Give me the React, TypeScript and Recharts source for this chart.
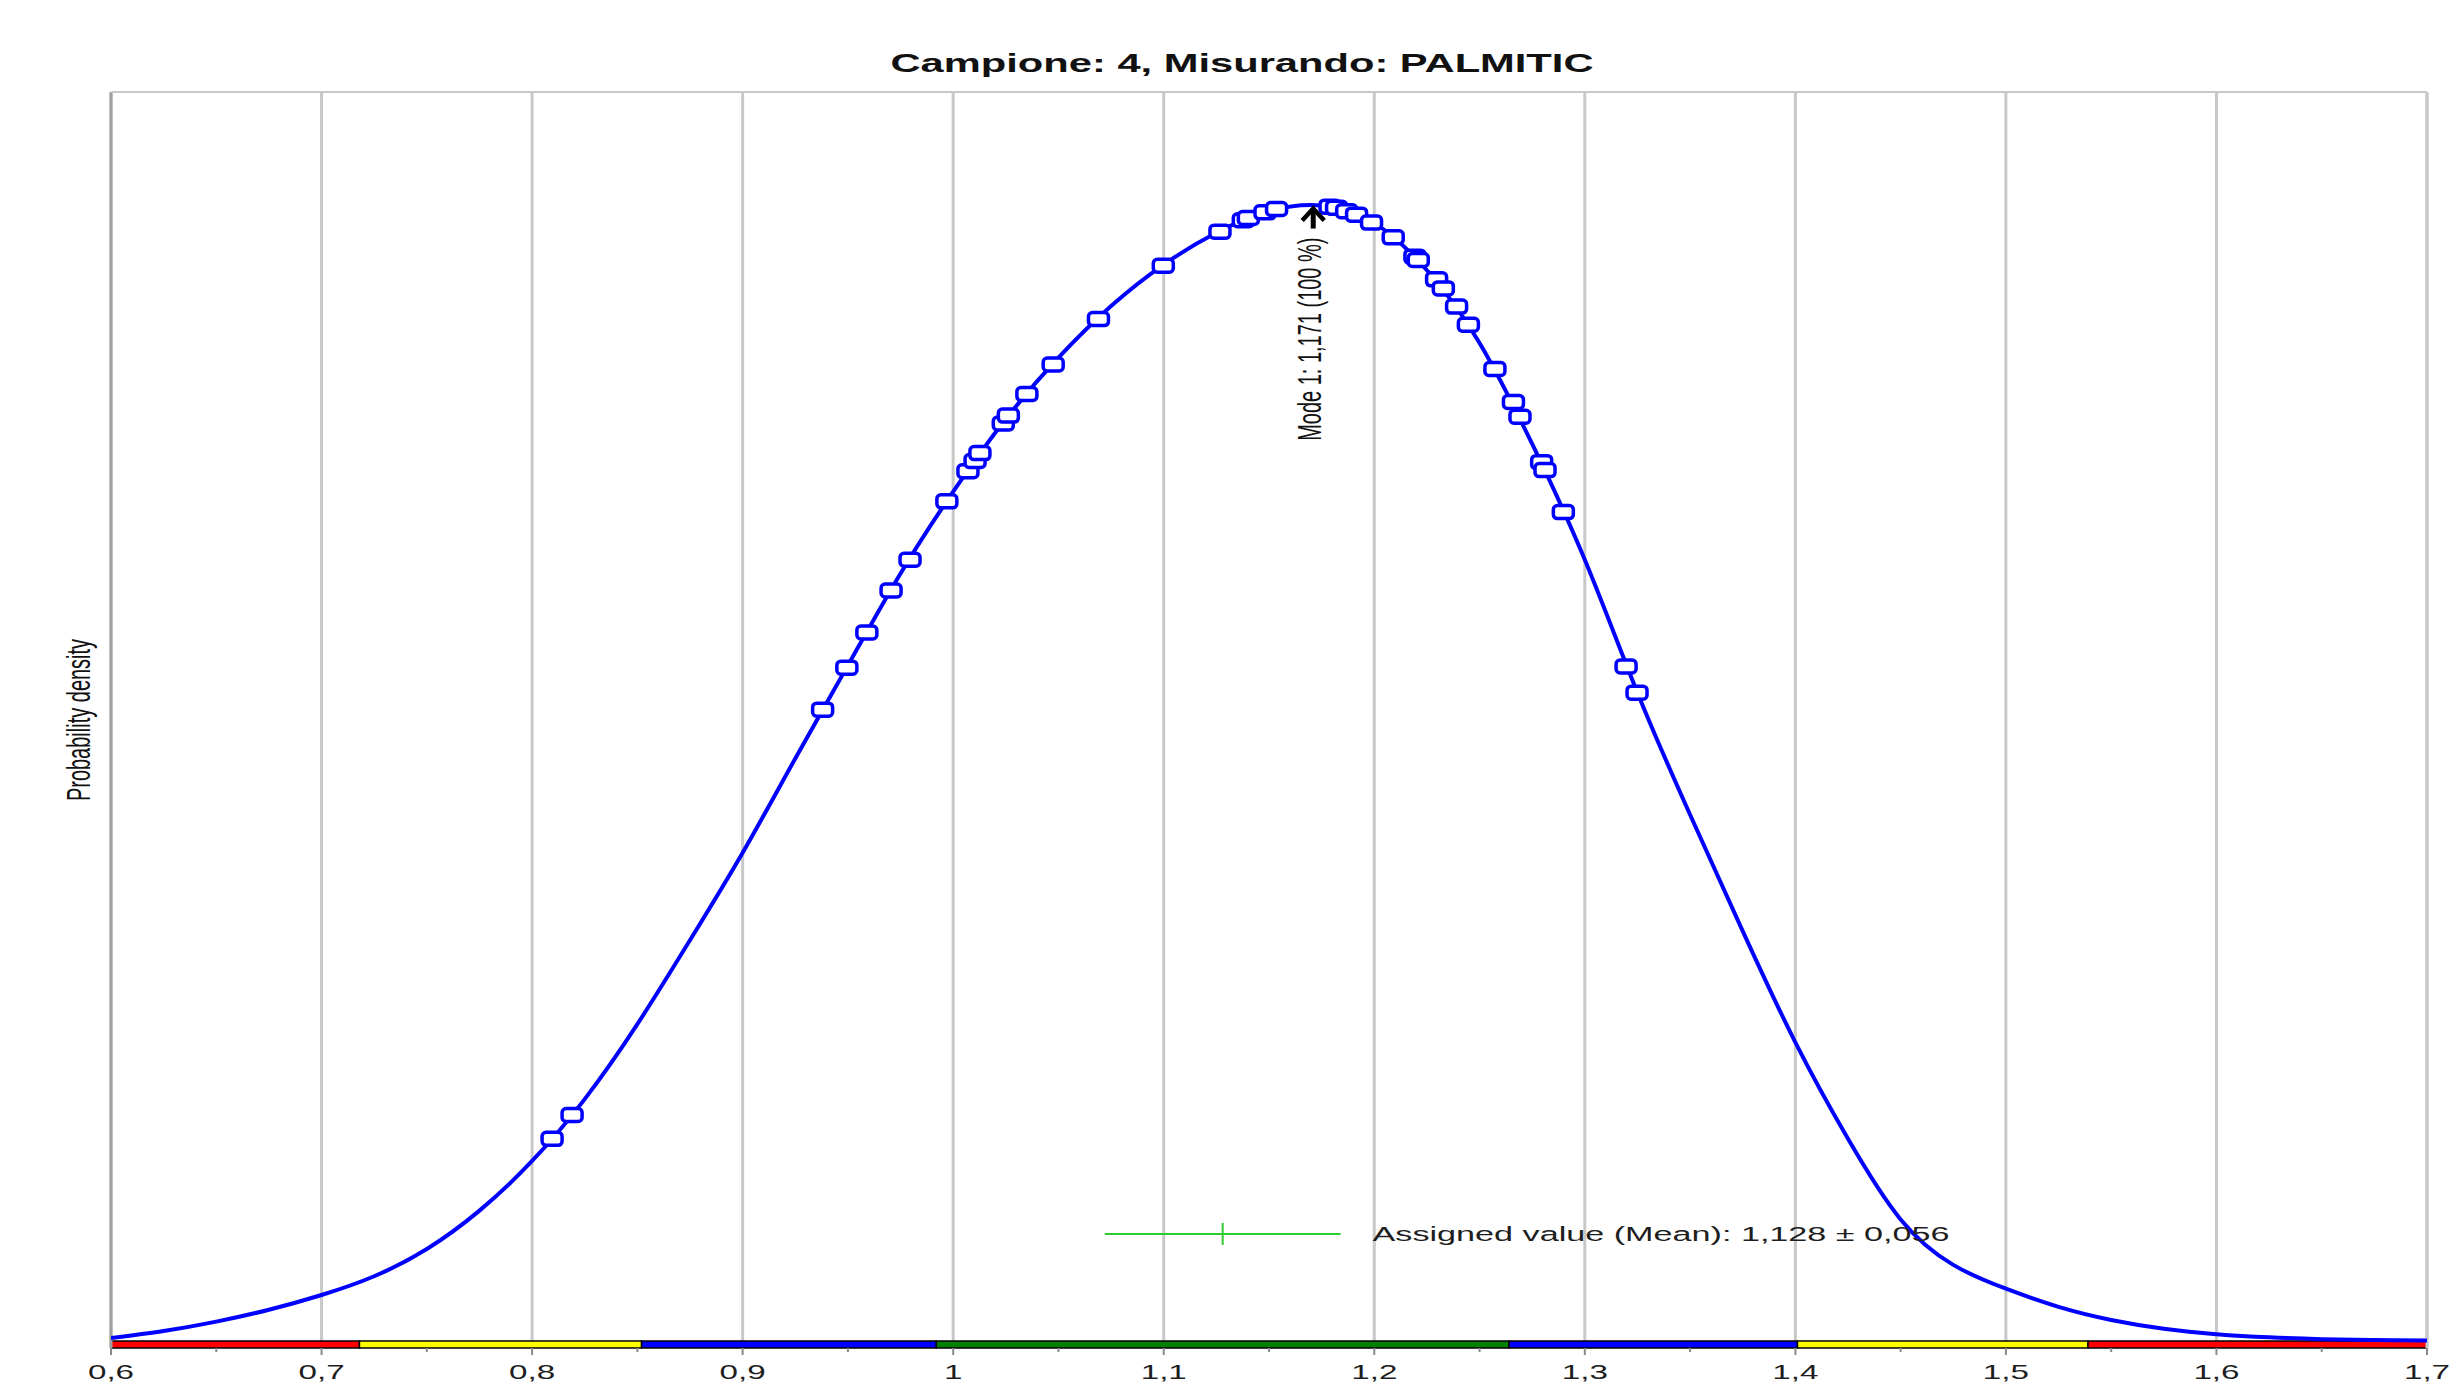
import React from 'react';
import {
  ComposedChart, Line, Scatter, XAxis, YAxis, CartesianGrid,
  ReferenceArea, ReferenceLine, ReferenceDot,
} from 'recharts';

// ---------- data ----------
const CURVE_X = [0.6, 0.625, 0.65, 0.675, 0.7, 0.725, 0.75, 0.775, 0.8, 0.825, 0.85, 0.875, 0.9, 0.925, 0.95, 0.975, 1.0, 1.025, 1.05, 1.075, 1.1, 1.125, 1.15, 1.175, 1.2, 1.225, 1.25, 1.275, 1.3, 1.325, 1.35, 1.375, 1.4, 1.425, 1.45, 1.475, 1.5, 1.525, 1.55, 1.575, 1.6, 1.625, 1.65, 1.675, 1.7];
const CURVE_Y = [0.0025, 0.00875, 0.017, 0.0275, 0.0405, 0.057, 0.081, 0.1148, 0.1585, 0.213, 0.279, 0.353, 0.43, 0.513, 0.595, 0.676, 0.748, 0.812, 0.866, 0.9115, 0.948, 0.976, 0.995, 1.0, 0.9845, 0.943, 0.879, 0.79, 0.688, 0.571, 0.4635, 0.361, 0.263, 0.178, 0.107, 0.067, 0.046, 0.03, 0.0185, 0.0108, 0.006, 0.0032, 0.0016, 0.0008, 0.0003];

const MARKER_X = [0.8095, 0.819, 0.938, 0.9495, 0.959, 0.9705, 0.9795, 0.997, 1.007, 1.0104, 1.0127, 1.0238, 1.0262, 1.035, 1.0475, 1.069, 1.0998, 1.1267, 1.1378, 1.1402, 1.1481, 1.1536, 1.179, 1.1821, 1.1869, 1.1916, 1.1987, 1.209, 1.2193, 1.2209, 1.2296, 1.2328, 1.2391, 1.2447, 1.2573, 1.2661, 1.2692, 1.2795, 1.2811, 1.2898, 1.3196, 1.3248];
const MARKER_Y = [0.178, 0.199, 0.556, 0.593, 0.624, 0.661, 0.688, 0.7395, 0.766, 0.775, 0.782, 0.808, 0.815, 0.834, 0.86, 0.9, 0.947, 0.977, 0.987, 0.989, 0.994, 0.997, 0.999, 0.998, 0.995, 0.992, 0.985, 0.972, 0.955, 0.952, 0.935, 0.927, 0.911, 0.895, 0.856, 0.827, 0.814, 0.774, 0.767, 0.73, 0.594, 0.571];

const MAJOR_TICKS = [0.6, 0.7, 0.8, 0.9, 1.0, 1.1, 1.2, 1.3, 1.4, 1.5, 1.6, 1.7];
const MINOR_TICKS = [0.65, 0.75, 0.85, 0.95, 1.05, 1.15, 1.25, 1.35, 1.45, 1.55, 1.65];

const BAND_EDGES = [0.6, 0.718, 0.852, 0.992, 1.264, 1.401, 1.539, 1.7];
const BAND_COLORS = ['#ff0000', '#ffff00', '#0000ff', '#008000', '#0000ff', '#ffff00', '#ff0000'];

const MODE = 1.171;
const MODE_PCT = 100;
const MEAN = 1.128;
const MEAN_U = 0.056;

const TITLE = 'Campione: 4, Misurando: PALMITIC';
const Y_LABEL = 'Probability density';

// ---------- layout constants ----------
const W = 2459;
const H = 1389;
const Y_MAX = 1.1;
const BAND_BOTTOM = -0.0062;
const ASSIGNED_Y = 0.0943;
const FONT = '"Liberation Sans", Arial, Helvetica, sans-serif';
const SX = 1.62;

const curve = CURVE_X.map((x, i) => ({ x, y: CURVE_Y[i] }));
const markers = MARKER_X.map((x, i) => ({ x, y: MARKER_Y[i] }));
const ALL_TICKS = [...MAJOR_TICKS, ...MINOR_TICKS].sort((a, b) => a - b);

const isMajor = (v: number) => Math.abs(v * 10 - Math.round(v * 10)) < 1e-6;
const fmt = (v: number) => String(Number(v.toFixed(1))).replace('.', ',');
const fmt3 = (v: number) => v.toFixed(3).replace('.', ',');

const XTick = (props: any) => {
  const { x, y, payload } = props;
  const v = payload.value as number;
  const major = isMajor(v);
  return (
    <g>
      <line x1={x} y1={y} x2={x} y2={y + (major ? 7 : 4)} stroke="#8a8a8a" strokeWidth={2} />
      {major && (
        <text
          transform={`translate(${x},${y + 31}) scale(1.66,1)`}
          textAnchor="middle"
          fontSize={20}
          fontFamily={FONT}
          fill="#1e1e1e"
        >
          {fmt(v)}
        </text>
      )}
    </g>
  );
};

const MarkerShape = (props: any) => {
  const { cx, cy } = props;
  if (cx == null || cy == null) return <g />;
  return (
    <rect x={cx - 10} y={cy - 6.5} width={20} height={13} rx={4} ry={4}
      fill="#ffffff" stroke="#0000ff" strokeWidth={3.5} />
  );
};

const ModeShape = (props: any) => {
  const { cx, cy } = props;
  if (cx == null || cy == null) return <g />;
  return (
    <g>
      <line x1={cx} y1={cy + 3} x2={cx} y2={cy + 23} stroke="#000" strokeWidth={5} />
      <polyline points={`${cx - 11},${cy + 15} ${cx},${cy + 3} ${cx + 11},${cy + 15}`}
        fill="none" stroke="#000" strokeWidth={4.5} />
      <text
        transform={`translate(${cx + 8},${cy + 32}) scale(${SX},1) rotate(-90)`}
        textAnchor="end"
        fontSize={20}
        fontFamily={FONT}
        fill="#111"
      >
        {`Mode 1: ${fmt3(MODE)}  (${MODE_PCT} %)`}
      </text>
    </g>
  );
};

const AssignedLabel = (props: any) => {
  const { cx, cy } = props;
  if (cx == null || cy == null) return <g />;
  return (
    <text x={cx + 32} y={cy + 7} fontSize={20} fontFamily={FONT} fill="#1e1e1e"
      textLength={577} lengthAdjust="spacingAndGlyphs">
      {`Assigned value (Mean): ${fmt3(MEAN)} \u00b1 ${fmt3(MEAN_U)}`}
    </text>
  );
};

export default function App() {
  return (
    <div style={{ position: 'absolute', left: 0, top: 0, width: W, height: H, background: '#fff' }}>
      <ComposedChart width={W} height={H} margin={{ top: 92, right: 32, left: 111, bottom: 0 }}>
        <CartesianGrid horizontal={false} vertical={true} verticalValues={MAJOR_TICKS}
          stroke="#c8c8c8" strokeWidth={3} />
        <XAxis dataKey="x" type="number" domain={[0.6, 1.7]} ticks={ALL_TICKS}
          allowDataOverflow interval={0} height={41} axisLine={false} tickLine={false}
          tickSize={0} tickMargin={0} tick={<XTick />} />
        <YAxis type="number" domain={[BAND_BOTTOM, Y_MAX]} allowDataOverflow hide />
        <ReferenceLine x={0.6} stroke="#a0a0a0" strokeWidth={3} />
        <ReferenceLine x={1.7} stroke="#c8c8c8" strokeWidth={3} />
        <ReferenceLine y={Y_MAX} stroke="#c8c8c8" strokeWidth={2} />
        {BAND_COLORS.map((c, i) => (
          <ReferenceArea key={i} x1={BAND_EDGES[i]} x2={BAND_EDGES[i + 1]} y1={BAND_BOTTOM} y2={0}
            fill={c} fillOpacity={1} stroke="#000" strokeWidth={1.5} ifOverflow="visible" />
        ))}
        <ReferenceLine segment={[{ x: MEAN - MEAN_U, y: ASSIGNED_Y }, { x: MEAN + MEAN_U, y: ASSIGNED_Y }]}
          stroke="#2ecc2e" strokeWidth={2} />
        <ReferenceLine segment={[{ x: MEAN, y: ASSIGNED_Y - 0.0097 }, { x: MEAN, y: ASSIGNED_Y + 0.0097 }]}
          stroke="#2ecc2e" strokeWidth={2} />
        <ReferenceDot x={MEAN + MEAN_U} y={ASSIGNED_Y} r={0} shape={<AssignedLabel />} />
        <Line data={curve} dataKey="y" type="natural" stroke="#0000ff" strokeWidth={4}
          dot={false} activeDot={false} isAnimationActive={false} />
        <Scatter data={markers} dataKey="y" shape={<MarkerShape />} isAnimationActive={false} />
        <ReferenceDot x={MODE} y={1.0} r={0} shape={<ModeShape />} />
      </ComposedChart>
      <svg width={W} height={H} style={{ position: 'absolute', left: 0, top: 0, pointerEvents: 'none' }}>
        <text x={1242} y={72} textAnchor="middle" fontSize={26} fontWeight="bold" fontFamily={FONT}
          fill="#111" textLength={703} lengthAdjust="spacingAndGlyphs">
          {TITLE}
        </text>
        <text transform={`translate(90,720) scale(${SX},1) rotate(-90)`} textAnchor="middle"
          fontSize={20} fontFamily={FONT} fill="#111">
          {Y_LABEL}
        </text>
      </svg>
    </div>
  );
}
